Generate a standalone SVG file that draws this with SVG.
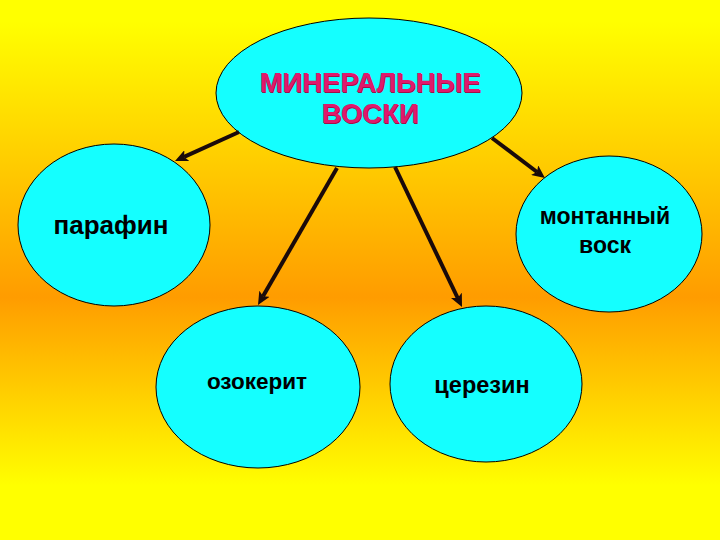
<svg xmlns="http://www.w3.org/2000/svg" width="720" height="540" viewBox="0 0 720 540">
  <defs>
    <linearGradient id="bg" x1="0" y1="0" x2="0" y2="1">
      <stop offset="0" stop-color="#ffff00"/>
      <stop offset="0.04" stop-color="#ffff00"/>
      <stop offset="0.55" stop-color="#ff9c00"/>
      <stop offset="0.9" stop-color="#ffff00"/>
      <stop offset="1" stop-color="#ffff00"/>
    </linearGradient>
    <marker id="arr" markerUnits="userSpaceOnUse" markerWidth="14" markerHeight="12" refX="3" refY="6" orient="auto">
      <path d="M0,0 L13,6 L0,12 L3,6 z" fill="#1a0a0a"/>
    </marker>
  </defs>
  <style>
    .node { fill: #14ffff; stroke: #000000; stroke-width: 1; }
    .lbl { font-family: "Liberation Sans", Arial, sans-serif; font-weight: bold; fill: #000000; text-anchor: middle; }
    .title { font-family: "Liberation Sans", Arial, sans-serif; font-weight: bold; font-size: 27.5px; text-anchor: middle; }
    .conn { stroke: #1a0a0a; stroke-width: 4; fill: none; marker-end: url(#arr); }
  </style>
  <rect x="0" y="0" width="720" height="540" fill="url(#bg)"/>

  <g id="node-mineral">
    <ellipse class="node" cx="369" cy="93" rx="153" ry="75"/>
    <text class="title" x="371" y="93" fill="#a01048">МИНЕРАЛЬНЫЕ</text>
    <text class="title" x="371" y="124" fill="#a01048">ВОСКИ</text>
    <text class="title" x="370" y="92" fill="#e0186c">МИНЕРАЛЬНЫЕ</text>
    <text class="title" x="370" y="123" fill="#e0186c">ВОСКИ</text>
  </g>
  <g id="node-paraffin">
    <ellipse class="node" cx="114" cy="225" rx="96" ry="81"/>
    <text class="lbl" x="111" y="234" font-size="26">парафин</text>
  </g>
  <g id="node-montan">
    <ellipse class="node" cx="609" cy="234" rx="93" ry="78"/>
    <text class="lbl" x="605" y="224" font-size="23">монтанный</text>
    <text class="lbl" x="605" y="253" font-size="23">воск</text>
  </g>
  <g id="node-ozokerite">
    <ellipse class="node" cx="258" cy="387" rx="102" ry="81"/>
    <text class="lbl" x="257" y="389" font-size="22.5">озокерит</text>
  </g>
  <g id="node-ceresin">
    <ellipse class="node" cx="486" cy="384" rx="96" ry="78"/>
    <text class="lbl" x="482" y="393" font-size="23.5">церезин</text>
  </g>

  <g id="connectors">
    <line class="conn" x1="239" y1="132" x2="184.1" y2="156.9"/>
    <line class="conn" x1="492" y1="138" x2="537" y2="172"/>
    <line class="conn" x1="337" y1="168" x2="263" y2="296.3"/>
    <line class="conn" x1="395" y1="167" x2="457.7" y2="298"/>
  </g>
</svg>
